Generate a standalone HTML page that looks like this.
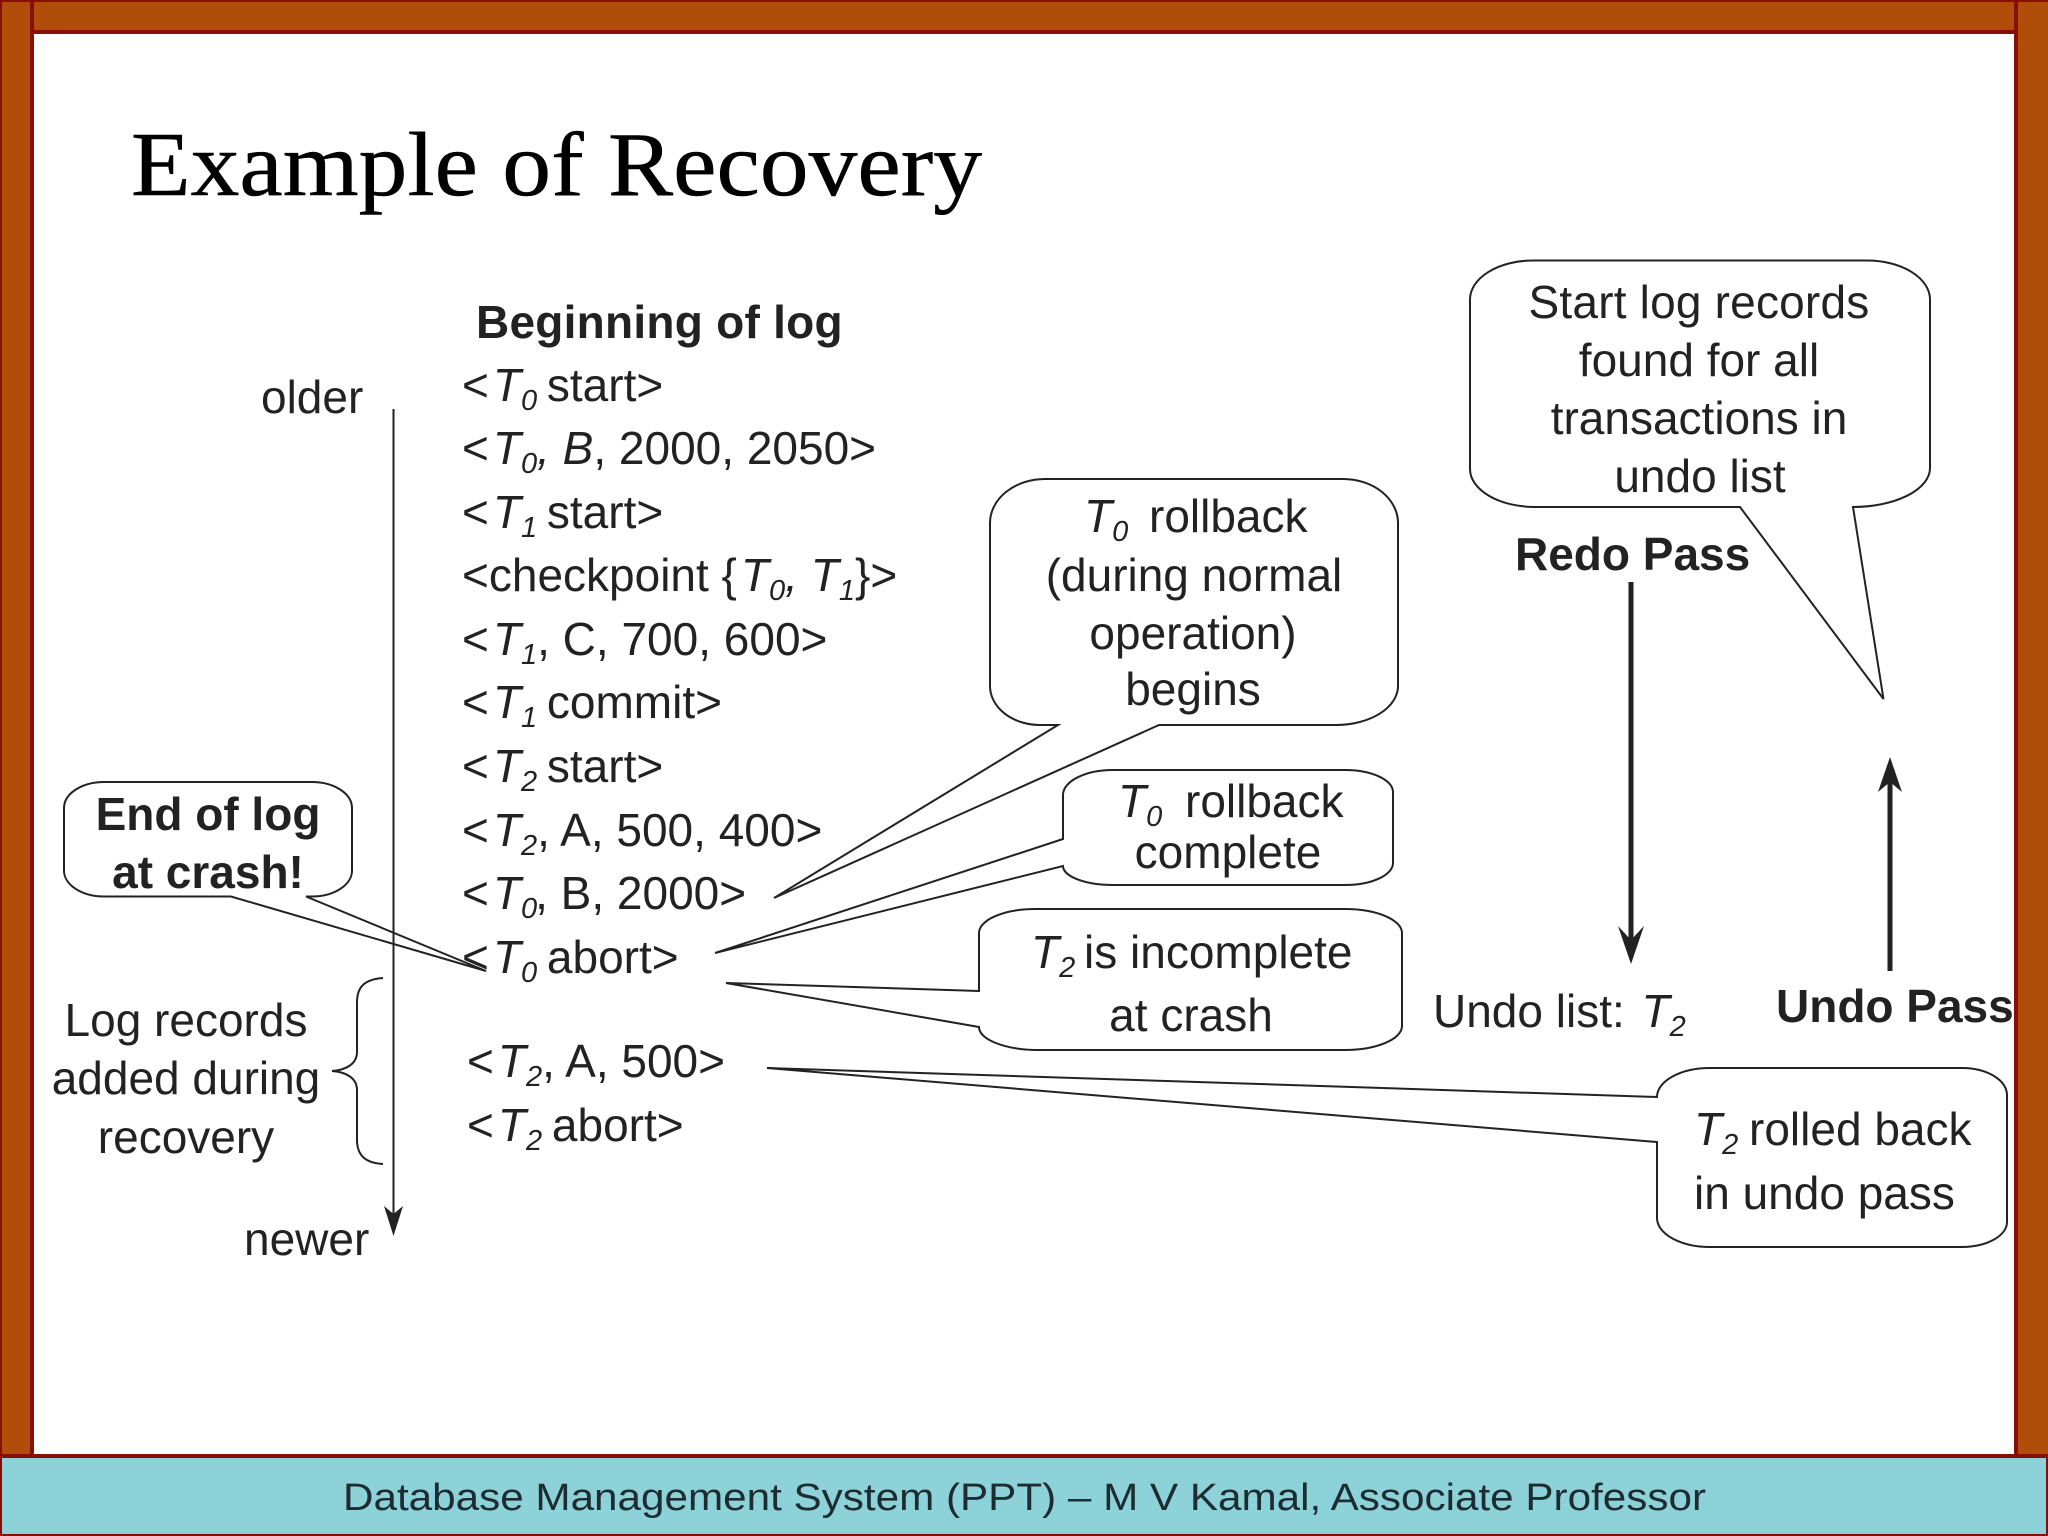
<!DOCTYPE html>
<html>
<head>
<meta charset="utf-8">
<style>
html,body{margin:0;padding:0;background:#fff;}
svg{display:block;}
text{font-family:"Liberation Sans",sans-serif;font-size:46px;fill:#222;}
.b{font-weight:bold;}
.i{font-style:italic;}
.s{font-style:italic;font-size:29px;}
.m{text-anchor:middle;}
.c{fill:none;stroke:#222;stroke-width:2;stroke-linejoin:miter;}
</style>
</head>
<body>
<svg xmlns="http://www.w3.org/2000/svg" width="2048" height="1536" viewBox="0 0 2048 1536">
<rect width="2048" height="1536" fill="#fff"/>
<!-- frame -->
<rect x="0" y="0" width="2048" height="34" fill="#8b0e06"/>
<rect x="0" y="0" width="34" height="1460" fill="#8b0e06"/>
<rect x="2014" y="0" width="34" height="1460" fill="#8b0e06"/>
<rect x="2" y="2" width="28" height="1452" fill="#b14d0b"/>
<rect x="34" y="2" width="1980" height="28" fill="#b14d0b"/>
<rect x="2018" y="2" width="30" height="1452" fill="#b14d0b"/>
<rect x="0" y="1454" width="2048" height="82" fill="#8b0e06"/>
<rect x="2" y="1458" width="2044" height="76" fill="#8cd2d8"/>
<!-- title -->
<text x="131" y="195" textLength="851" lengthAdjust="spacingAndGlyphs" style="font-family:'Liberation Serif',serif;font-size:91px;fill:#000;stroke:#000;stroke-width:.5">Example of Recovery</text>
<!-- footer -->
<text x="343" y="1510" textLength="1363" lengthAdjust="spacingAndGlyphs" style="font-size:38px;fill:#1c2c30">Database Management System (PPT) – M V Kamal, Associate Professor</text>

<!-- time arrow -->
<line x1="393.5" y1="409" x2="393.5" y2="1220" stroke="#222" stroke-width="2"/>
<polygon points="384,1206 393.5,1214 403,1206 393.5,1236" fill="#222"/>
<text x="261" y="413">older</text>
<text x="244" y="1255">newer</text>

<!-- brace -->
<path class="c" d="M383 978 C366 979 357 986 357 1002 V1052 C357 1064 346 1070 332 1071 C346 1072 357 1078 357 1090 V1140 C357 1156 366 1163 383 1164"/>
<text class="m" x="186" y="1036">Log records</text>
<text class="m" x="186" y="1094">added during</text>
<text class="m" x="186" y="1153">recovery</text>

<!-- log -->
<text class="b" x="476" y="338" letter-spacing=".25">Beginning of log</text>
<text x="462" y="401">&lt;<tspan class="i" dx="4">T</tspan><tspan class="s" dy="9">0</tspan><tspan dy="-9" dx="-3"> start&gt;</tspan></text>
<text x="462" y="464">&lt;<tspan class="i" dx="4">T</tspan><tspan class="s" dy="9">0</tspan><tspan class="i" dy="-9">, B</tspan>, 2000, 2050&gt;</text>
<text x="462" y="528">&lt;<tspan class="i" dx="4">T</tspan><tspan class="s" dy="9">1</tspan><tspan dy="-9" dx="-3"> start&gt;</tspan></text>
<text x="462" y="591">&lt;checkpoint {<tspan class="i" dx="4">T</tspan><tspan class="s" dy="9">0</tspan><tspan class="i" dy="-9">,  T</tspan><tspan class="s" dy="9">1</tspan><tspan dy="-9">}&gt;</tspan></text>
<text x="462" y="655">&lt;<tspan class="i" dx="4">T</tspan><tspan class="s" dy="9">1</tspan><tspan dy="-9">, C, 700, 600&gt;</tspan></text>
<text x="462" y="718">&lt;<tspan class="i" dx="4">T</tspan><tspan class="s" dy="9">1</tspan><tspan dy="-9" dx="-3"> commit&gt;</tspan></text>
<text x="462" y="782">&lt;<tspan class="i" dx="4">T</tspan><tspan class="s" dy="9">2</tspan><tspan dy="-9" dx="-3"> start&gt;</tspan></text>
<text x="462" y="846">&lt;<tspan class="i" dx="4">T</tspan><tspan class="s" dy="9">2</tspan><tspan dy="-9">, A, 500, 400&gt;</tspan></text>
<text x="462" y="909">&lt;<tspan class="i" dx="4">T</tspan><tspan class="s" dy="9">0</tspan><tspan dy="-9" dx="-2">, B, 2000&gt;</tspan></text>
<text x="462" y="973">&lt;<tspan class="i" dx="4">T</tspan><tspan class="s" dy="9">0</tspan><tspan dy="-9" dx="-3"> abort&gt;</tspan></text>
<text x="467" y="1077">&lt;<tspan class="i" dx="4">T</tspan><tspan class="s" dy="9">2</tspan><tspan dy="-9">, A, 500&gt;</tspan></text>
<text x="467" y="1141">&lt;<tspan class="i" dx="4">T</tspan><tspan class="s" dy="9">2</tspan><tspan dy="-9" dx="-3"> abort&gt;</tspan></text>

<!-- End of log callout -->
<path class="c" d="M104 782 H312 A40 26 0 0 1 352 808 V870 A40 26 0 0 1 312 896.5 H306 L486 971 L231 896.5 H104 A40 26 0 0 1 64 870 V808 A40 26 0 0 1 104 782 Z"/>
<text class="b m" x="208" y="830">End of log</text>
<text class="b m" x="208" y="888">at crash!</text>

<!-- T0 rollback begins -->
<path class="c" d="M1045 479 H1343 A55 44 0 0 1 1398 523 V686 A62 39 0 0 1 1336 725 H1159 L774 898 L1058 725 H1040 A50 39 0 0 1 990 686 V523 A55 44 0 0 1 1045 479 Z"/>
<text x="1084" y="532"><tspan class="i">T</tspan><tspan class="s" dy="9">0</tspan></text>
<text x="1149" y="532">rollback</text>
<text class="m" x="1194" y="591">(during normal</text>
<text class="m" x="1193" y="649">operation)</text>
<text class="m" x="1193" y="705">begins</text>

<!-- T0 rollback complete -->
<path class="c" d="M1063 839 L715 953 L1063 866 A50 19 0 0 0 1113 885 H1345 A48 22 0 0 0 1393 863 V792 A48 22 0 0 0 1345 770 H1113 A50 25 0 0 0 1063 795 Z"/>
<text x="1118" y="817"><tspan class="i">T</tspan><tspan class="s" dy="9">0</tspan></text>
<text x="1185" y="817">rollback</text>
<text class="m" x="1228" y="868">complete</text>

<!-- T2 incomplete -->
<path class="c" d="M979 991 L726 983 L979 1027 A60 23 0 0 0 1035 1050 H1345 A57 24 0 0 0 1402 1026 V933 A57 24 0 0 0 1345 909 H1035 A56 24 0 0 0 979 933 Z"/>
<text x="1031" y="968"><tspan class="i">T</tspan><tspan class="s" dy="9">2</tspan><tspan dy="-9" dx="-4"> is incomplete</tspan></text>
<text class="m" x="1191" y="1031">at crash</text>

<!-- T2 rolled back -->
<path class="c" d="M1657 1097 L767 1068 L1657 1142 V1218 A53 29 0 0 0 1710 1247 H1962 A45 25 0 0 0 2007 1222 V1095 A45 27 0 0 0 1962 1068 H1710 A53 29 0 0 0 1657 1097 Z"/>
<text x="1694" y="1145"><tspan class="i">T</tspan><tspan class="s" dy="9">2</tspan><tspan dy="-9" dx="-2"> rolled back</tspan></text>
<text x="1694" y="1209">in undo pass</text>

<!-- Start log -->
<path class="c" d="M1533 260.5 H1867 A63 39 0 0 1 1930 299.5 V468 A77 39 0 0 1 1853 507 L1883.5 699 L1740 507 H1535 A65 38 0 0 1 1470 469 V299.5 A63 39 0 0 1 1533 260.5 Z"/>
<text class="m" x="1699" y="318" letter-spacing=".2">Start log records</text>
<text class="m" x="1699" y="376">found for all</text>
<text class="m" x="1699" y="434">transactions in</text>
<text class="m" x="1700" y="492">undo list</text>

<!-- Redo / undo -->
<text class="b" x="1515" y="570">Redo Pass</text>
<line x1="1631" y1="582" x2="1631" y2="945" stroke="#222" stroke-width="5"/>
<polygon points="1618,926 1631,940 1644,926 1631,964" fill="#222"/>
<text x="1433" y="1027">Undo list: <tspan class="i" dx="4">T</tspan><tspan class="s" dy="9">2</tspan></text>
<line x1="1890" y1="971" x2="1890" y2="775" stroke="#222" stroke-width="5"/>
<polygon points="1878,792 1890,782 1902,792 1890,757" fill="#222"/>
<text class="b" x="1776" y="1022">Undo Pass</text>
</svg>
</body>
</html>
